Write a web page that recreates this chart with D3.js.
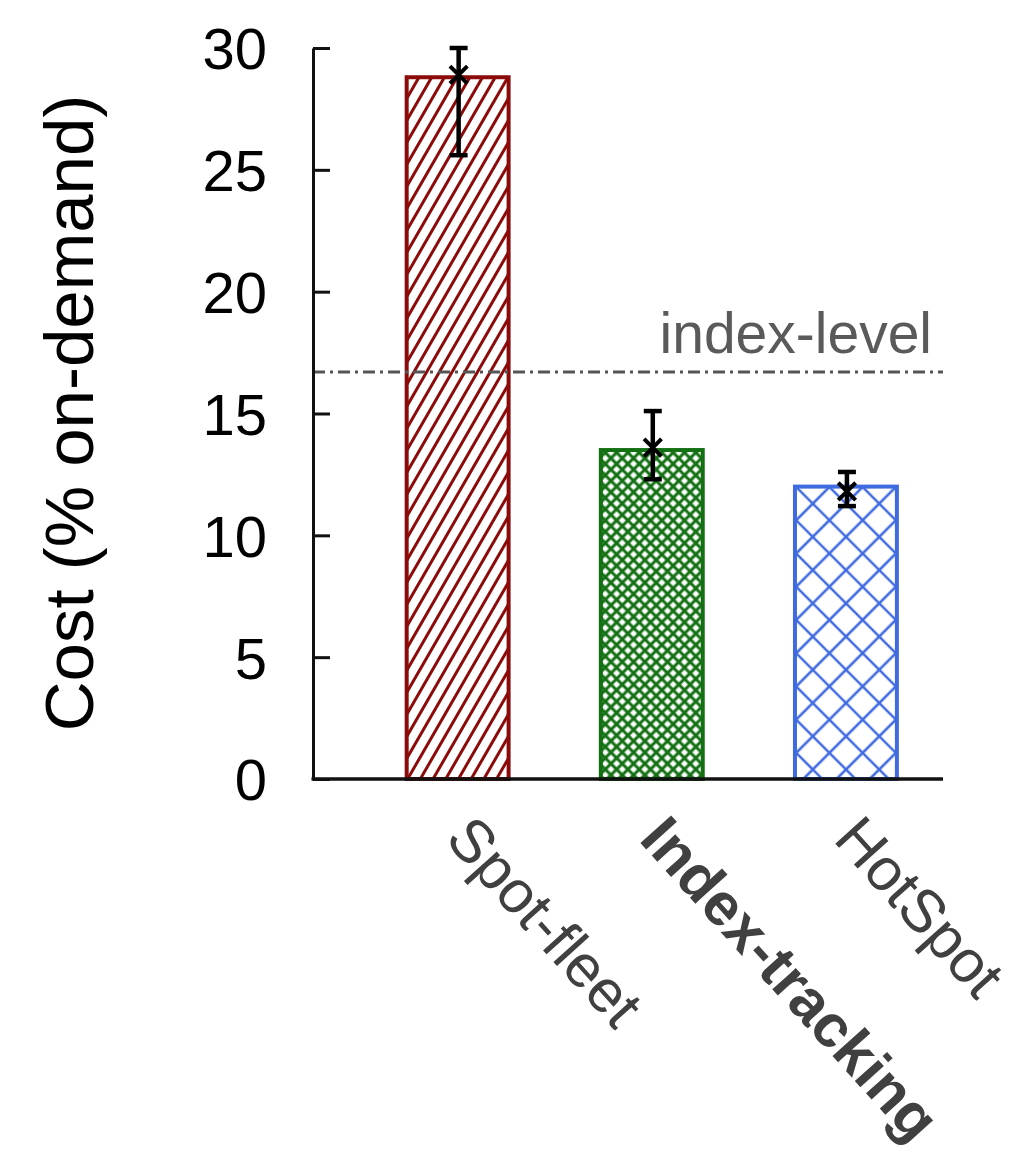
<!DOCTYPE html>
<html>
<head>
<meta charset="utf-8">
<script src="https://cdn.jsdelivr.net/npm/d3@7"></script>
<style>
  html, body { margin: 0; padding: 0; background: #fff; }
  svg { display: block; }
</style>
</head>
<body>
<script>
// ---- data ----
const categories = ["Spot-fleet", "Index-tracking", "HotSpot"];
const costMean   = [28.8, 13.5, 12.0];
const errCenter  = [28.9, 13.6, 11.8];
const errLow     = [25.6, 12.3, 11.2];
const errHigh    = [30.0, 15.1, 12.6];
const indexLevel = 16.7;
const indexLevelLabel = "index-level";
const yTicks     = [0, 5, 10, 15, 20, 25, 30];
const yTitle     = "Cost (% on-demand)";
const barColors  = ["#8b0a0a", "#137013", "#3f6ae0"];
const boldLabel  = [false, true, false];

const W = 1015, H = 1171;
const svg = d3.select("body").append("svg").attr("width", W).attr("height", H);
const FONT = "'Liberation Sans', Arial, Helvetica, sans-serif";

const x = d3.scaleLinear().domain([-0.745, 2.5]).range([313, 943]);
const y = d3.scaleLinear().domain([0, 30]).range([779, 48]);
const barW = x(0.525) - x(0);

// ---- patterns ----
const defs = svg.append("defs");
const p0 = defs.append("pattern").attr("id", "pat0").attr("patternUnits", "userSpaceOnUse")
  .attr("width", 11).attr("height", 11).attr("patternTransform", "rotate(30)");
p0.append("rect").attr("width", 11).attr("height", 11).attr("fill", "#fff");
p0.append("line").attr("x1", 5.5).attr("y1", 0).attr("x2", 5.5).attr("y2", 11)
  .attr("stroke", barColors[0]).attr("stroke-width", 3);
function crossPattern(id, s, color, sw, tf) {
  const p = defs.append("pattern").attr("id", id).attr("patternUnits", "userSpaceOnUse")
    .attr("width", s).attr("height", s).attr("patternTransform", tf);
  p.append("rect").attr("width", s).attr("height", s).attr("fill", "#fff");
  p.append("path").attr("d", `M0,${s/2}H${s}M${s/2},0V${s}`)
    .attr("stroke", color).attr("stroke-width", sw).attr("fill", "none");
}
crossPattern("pat1", 8, barColors[1], 3, "rotate(45)");
crossPattern("pat2", 23.5, barColors[2], 2.6, "translate(846,487) rotate(45)");

// ---- bars ----
svg.append("g").selectAll("rect").data(categories).join("rect")
  .attr("x", (d, i) => x(i) - barW / 2)
  .attr("y", (d, i) => y(costMean[i]))
  .attr("width", barW)
  .attr("height", (d, i) => y(0) - y(costMean[i]))
  .attr("fill", (d, i) => `url(#pat${i})`)
  .attr("stroke", (d, i) => barColors[i])
  .attr("stroke-width", 4);

// index-level line
svg.append("line")
  .attr("x1", x.range()[0]).attr("x2", x.range()[1])
  .attr("y1", y(indexLevel)).attr("y2", y(indexLevel))
  .attr("stroke", "#555").attr("stroke-width", 3)
  .attr("stroke-dasharray", "12,5,3,5");
svg.append("text")
  .attr("x", 932).attr("y", y(indexLevel) - 19)
  .attr("text-anchor", "end")
  .attr("font-family", FONT).attr("font-size", 57)
  .attr("fill", "#5a5a5a")
  .text(indexLevelLabel);

// ---- error bars ----
const eg = svg.append("g").attr("stroke", "#000").attr("stroke-width", 4.5).attr("fill", "none");
categories.forEach((c, i) => {
  const cx = x(i) + 1;
  eg.append("line").attr("x1", cx).attr("x2", cx).attr("y1", y(errLow[i])).attr("y2", y(errHigh[i]));
  eg.append("line").attr("x1", cx - 9).attr("x2", cx + 9).attr("y1", y(errLow[i])).attr("y2", y(errLow[i]));
  eg.append("line").attr("x1", cx - 9).attr("x2", cx + 9).attr("y1", y(errHigh[i])).attr("y2", y(errHigh[i]));
  eg.append("path").attr("d", d3.symbol(d3.symbolX, 200)())
    .attr("stroke-width", 4)
    .attr("transform", `translate(${cx},${y(errCenter[i])})`);
});

// ---- axes ----
const yAxis = d3.axisLeft(y).tickValues(yTicks).tickSizeInner(-17).tickSizeOuter(0).tickPadding(46);
const gy = svg.append("g").attr("transform", `translate(${x.range()[0]},0)`).call(yAxis);
gy.select(".domain").attr("stroke", "#111").attr("stroke-width", 3);
gy.selectAll(".tick line").attr("stroke", "#111").attr("stroke-width", 3);
gy.selectAll(".tick text").attr("font-family", FONT).attr("font-size", 58).attr("fill", "#000")
  .attr("dy", "0.36em");

svg.append("line").attr("x1", x.range()[0] - 1.5).attr("x2", x.range()[1])
  .attr("y1", y(0)).attr("y2", y(0)).attr("stroke", "#111").attr("stroke-width", 3.5);

// category labels
svg.append("g").selectAll("text").data(categories).join("text")
  .attr("transform", (d, i) => `translate(${x(i) - 14},840) rotate(48)`)
  .attr("font-family", FONT).attr("font-size", 60)
  .attr("font-weight", (d, i) => boldLabel[i] ? "bold" : "normal")
  .attr("fill", "#404040")
  .text(d => d);

// y title
svg.append("text")
  .attr("transform", `translate(93,413) rotate(-90)`)
  .attr("text-anchor", "middle")
  .attr("font-family", FONT).attr("font-size", 69)
  .attr("fill", "#000")
  .text(yTitle);
</script>
</body>
</html>
